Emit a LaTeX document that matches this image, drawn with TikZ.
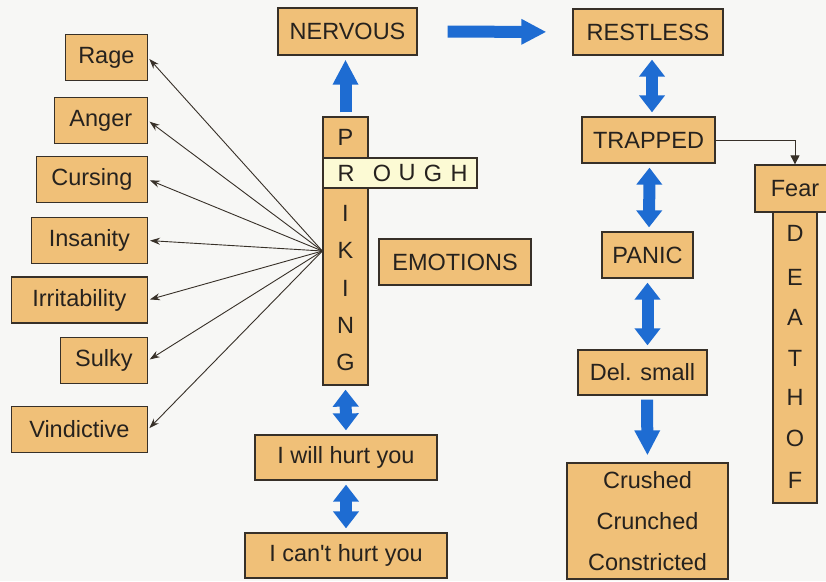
\documentclass[tikz,border=0pt]{standalone}
\usepackage{fontspec}
\setmainfont{Liberation Sans}
\usetikzlibrary{arrows.meta}
\definecolor{boxtan}{RGB}{240,192,120}
\definecolor{roughfill}{RGB}{252,250,212}
\definecolor{edgedark}{RGB}{55,48,40}
\definecolor{inkdark}{RGB}{38,34,30}
\definecolor{arrowblue}{RGB}{30,108,210}
\definecolor{paper}{RGB}{247,247,245}
\begin{document}
\begin{tikzpicture}[x=1pt, y=-1pt, font=\fontsize{23.5}{41}\selectfont, text=inkdark,
    box/.style={draw=edgedark, line width=1.3pt, fill=boxtan, inner sep=0pt, minimum height=46pt},
    fat/.style={line width=12pt, draw=arrowblue, -{Triangle[length=25pt,width=24pt]}, shorten >=4pt, shorten <=4pt},
    fatboth/.style={fat, {Triangle[length=17pt,width=25pt]}-{Triangle[length=17pt,width=25pt]}},
    fanline/.style={draw=edgedark, line width=0.9pt, -{Stealth[length=10pt,width=7pt]}, shorten >=2pt}]
    % --- tlo ---
    \fill[paper] (0,0) rectangle (826,581);
    \useasboundingbox (0,0) rectangle (826,581);
    % --- lewa kolumna ---
    \node[box, anchor=east, minimum width=82pt]  (rage)       at (148,57.5)  {Rage};
    \node[box, anchor=east, minimum width=93pt]  (anger)      at (148,120.5) {Anger};
    \node[box, anchor=east, minimum width=111pt] (cursing)    at (148,179.5) {Cursing};
    \node[box, anchor=east, minimum width=116pt] (insanity)   at (148,240.5) {Insanity};
    \node[box, anchor=east, minimum width=136pt] (irritab)    at (148,300)   {Irritability};
    \node[box, anchor=east, minimum width=87pt]  (sulky)      at (148,360.5) {Sulky};
    \node[box, anchor=east, minimum width=136pt] (vindictive) at (148,429.5) {Vindictive};
    % --- srodek: PRIKING / ROUGH ---
    \node[box, minimum width=45pt, minimum height=268pt] (priking) at (345.5,251) {};
    \foreach \l/\y [count=\i] in {P/137, I/213, K/250, I/288, N/325, G/362} {
      \node (pl\i) at (345.5,\y) {\l};
    }
    \node[box, fill=roughfill, minimum width=154pt, minimum height=30pt] (rough) at (400,173) {};
    \foreach \l/\x [count=\i] in {R/346, O/382, U/407, G/433, H/459} {
      \node (rl\i) at (\x,173) {\l};
    }
    \node[box, minimum width=152pt] (emotions) at (455,262)   {EMOTIONS};
    \node[box, minimum width=139pt, minimum height=47pt] (nervous) at (347.5,31.5) {NERVOUS};
    \node[box, minimum width=182pt, minimum height=45pt] (iwill)   at (346,457.5)  {I will hurt you};
    \node[box, minimum width=202pt, minimum height=45pt] (icant)   at (346,555.5)  {I can\textquotesingle t hurt you};
    % --- prawa kolumna ---
    \node[box, minimum width=150pt] (restless) at (648,32)    {RESTLESS};
    \node[box, minimum width=133pt] (trapped)  at (648.5,140) {TRAPPED};
    \node[box, minimum width=91pt]  (panic)    at (647.5,255) {PANIC};
    \node[box, minimum width=129pt, minimum height=45pt] (delsmall) at (642.5,372.5) {Del. small};
    \node[box, minimum width=161pt, minimum height=116pt, align=center] (crushed) at (647.5,521)
      {Crushed\\Crunched\\Constricted};
    % --- DEATH OF ---
    \node[box, minimum width=44pt, minimum height=291pt] (deathof) at (795,357.5) {};
    \foreach \l/\y [count=\i] in {D/233, E/277, A/317, T/358, H/397, O/438, F/480} {
      \node (dl\i) at (795,\y) {\l};
    }
    \node[box, minimum width=80pt, minimum height=47pt] (fear) at (795,188.5) {Fear};
    % --- strzalki ---
    \coordinate (hub) at (priking.west);
    \foreach \t in {rage,anger,cursing,insanity,irritab,sulky,vindictive} {
      \draw[fanline] (hub) -- (\t.east);
    }
    \draw[fat] (priking.north) -- (priking.north |- nervous.south);
    \draw[fat, shorten <=30pt, shorten >=26pt] (nervous.east) -- (restless.west);
    \draw[fatboth] ([xshift=4pt]restless.south) -- ([xshift=3.5pt]trapped.north);
    \draw[fatboth] ([xshift=1pt]trapped.south) -- ([xshift=1.5pt]panic.north);
    \draw[fatboth] (panic.south) -- ([xshift=5pt]delsmall.south |- delsmall.north);
    \draw[fat, shorten >=7pt] ([xshift=4.5pt]delsmall.south) -- (crushed.north);
    \draw[fatboth] (priking.south) -- (iwill.north);
    \draw[fatboth] (iwill.south) -- (icant.north);
    \draw[edgedark, line width=0.9pt, -{Triangle[length=9pt,width=9pt]}] (trapped.east) -| (fear.north);
  \end{tikzpicture}
\end{document}
